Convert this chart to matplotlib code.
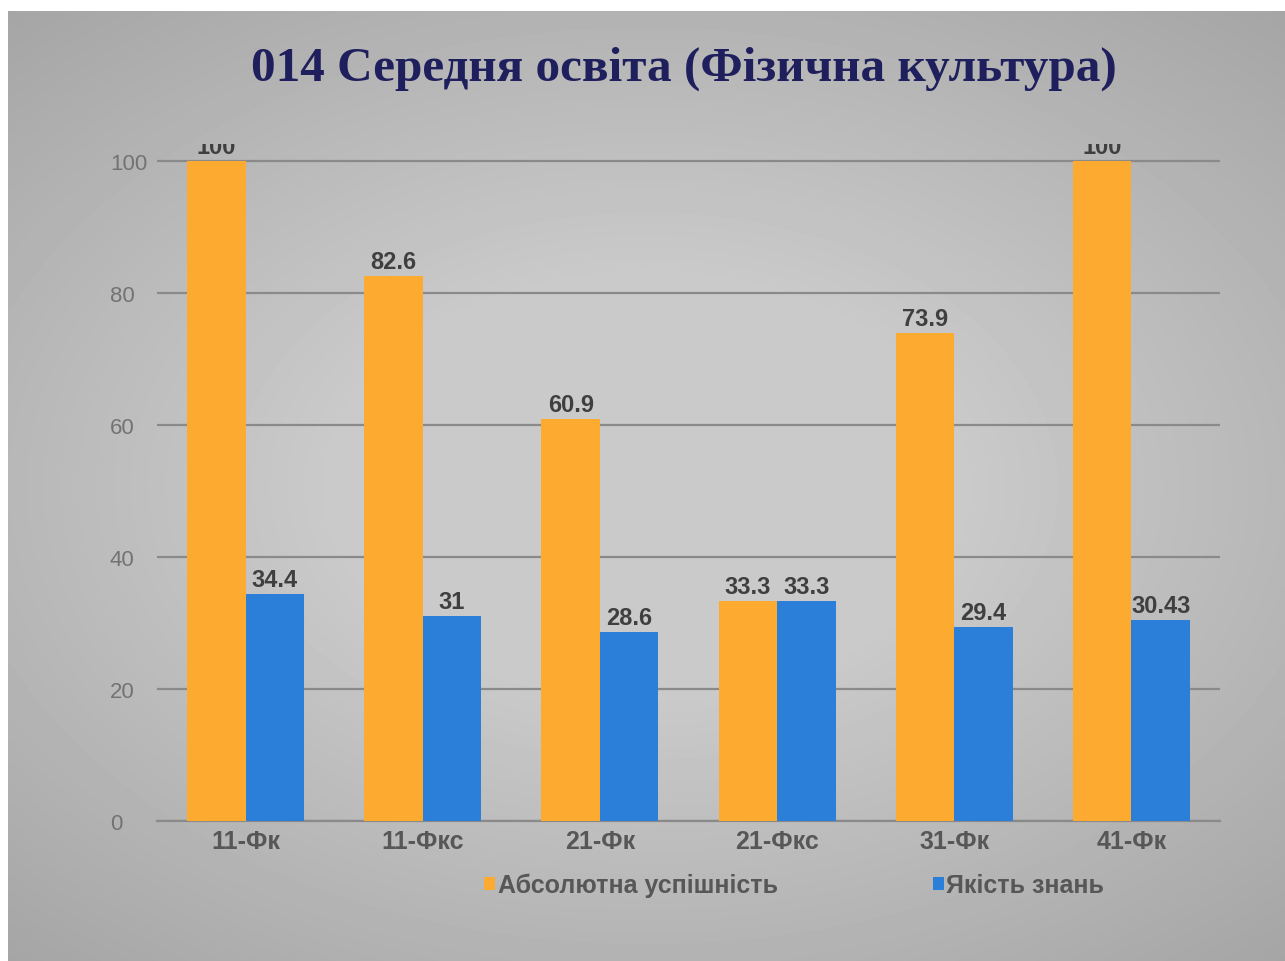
import matplotlib.pyplot as plt
import numpy as np
from matplotlib.patches import Patch

plt.rcParams['font.family'] = ['Liberation Sans', 'DejaVu Sans']

# data
groups = ["11-Фк", "11-Фкс", "21-Фк", "21-Фкс", "31-Фк", "41-Фк"]
abs_success = [100, 82.6, 60.9, 33.3, 73.9, 100]
quality = [34.4, 31, 28.6, 33.3, 29.4, 30.43]
abs_labels = ["100", "82.6", "60.9", "33.3", "73.9", "100"]
quality_labels = ["34.4", "31", "28.6", "33.3", "29.4", "30.43"]
series_names = ["Абсолютна успішність", "Якість знань"]

orange = "#fdaa30"
blue = "#2b7fd9"

fig = plt.figure(figsize=(12.85, 9.62), dpi=100)
fig.patch.set_facecolor("white")

# grey slide background (soft vignette)
bg = fig.add_axes([8 / 1285, 0, 1 - 8 / 1285, 1 - 12 / 962])
bg.set_axis_off()
gx, gy = np.meshgrid(np.linspace(-1, 1, 300), np.linspace(-1, 1, 230))
r = np.sqrt(gx**2 * 0.8 + gy**2)
shade = 0.79 - 0.16 * np.clip(r - 0.45, 0, None)
bg.imshow(shade, cmap="gray", vmin=0, vmax=1, aspect="auto",
          extent=[0, 1, 0, 1], interpolation="bicubic")
bg.set_xlim(0, 1)
bg.set_ylim(0, 1)

fig.text(0.532, 0.928, "014 Середня освіта (Фізична культура)",
         ha="center", va="center", fontsize=35.5, fontweight="bold",
         family=["Liberation Serif", "DejaVu Serif"], color="#1e1f5c")

ax = fig.add_axes([157 / 1285, 1 - 822 / 962, (1220 - 157) / 1285, (822 - 145) / 962])
ax.patch.set_alpha(0)

x = np.arange(len(groups))
w = 0.33
b1 = ax.bar(x - w / 2, abs_success, w, color=orange, zorder=3)
b2 = ax.bar(x + w / 2, quality, w, color=blue, zorder=3)

for bars, labels in ((b1, abs_labels), (b2, quality_labels)):
    for bar, lab in zip(bars, labels):
        ax.text(bar.get_x() + bar.get_width() / 2, bar.get_height() + 0.5, lab,
                ha="center", va="bottom", fontsize=17, fontweight="bold",
                color="#3f3f3f", clip_on=True, zorder=4)

ax.set_xlim(-0.5, len(groups) - 0.5)
ax.set_ylim(0, 102.6)
ax.set_yticks([0, 20, 40, 60, 80, 100])
ax.yaxis.grid(True, color="#8a8a8a", linewidth=1.6, zorder=0)
ax.set_xticks(x)
ax.set_xticklabels(groups, fontsize=18, fontweight="bold", color="#575757")
ax.tick_params(axis="y", length=0, labelsize=16, labelcolor="#737373", pad=34)
for lab in ax.get_yticklabels():
    lab.set_horizontalalignment("left")
ax.tick_params(axis="x", length=0, pad=6)
for s in ("top", "right", "left"):
    ax.spines[s].set_visible(False)
ax.spines["bottom"].set_color("#8a8a8a")
ax.spines["bottom"].set_linewidth(1.6)

handles = [Patch(facecolor=orange, label=series_names[0]),
           Patch(facecolor=blue, label=series_names[1])]
fig.legend(handles=handles, loc="center", bbox_to_anchor=(0.618, 0.079),
           ncol=2, frameon=False, handlelength=0.45, handleheight=0.45,
           handletextpad=0.1, columnspacing=6.2,
           prop={"size": 18, "weight": "bold"}, labelcolor="#575757")

fig.savefig("out.png", dpi=100)
